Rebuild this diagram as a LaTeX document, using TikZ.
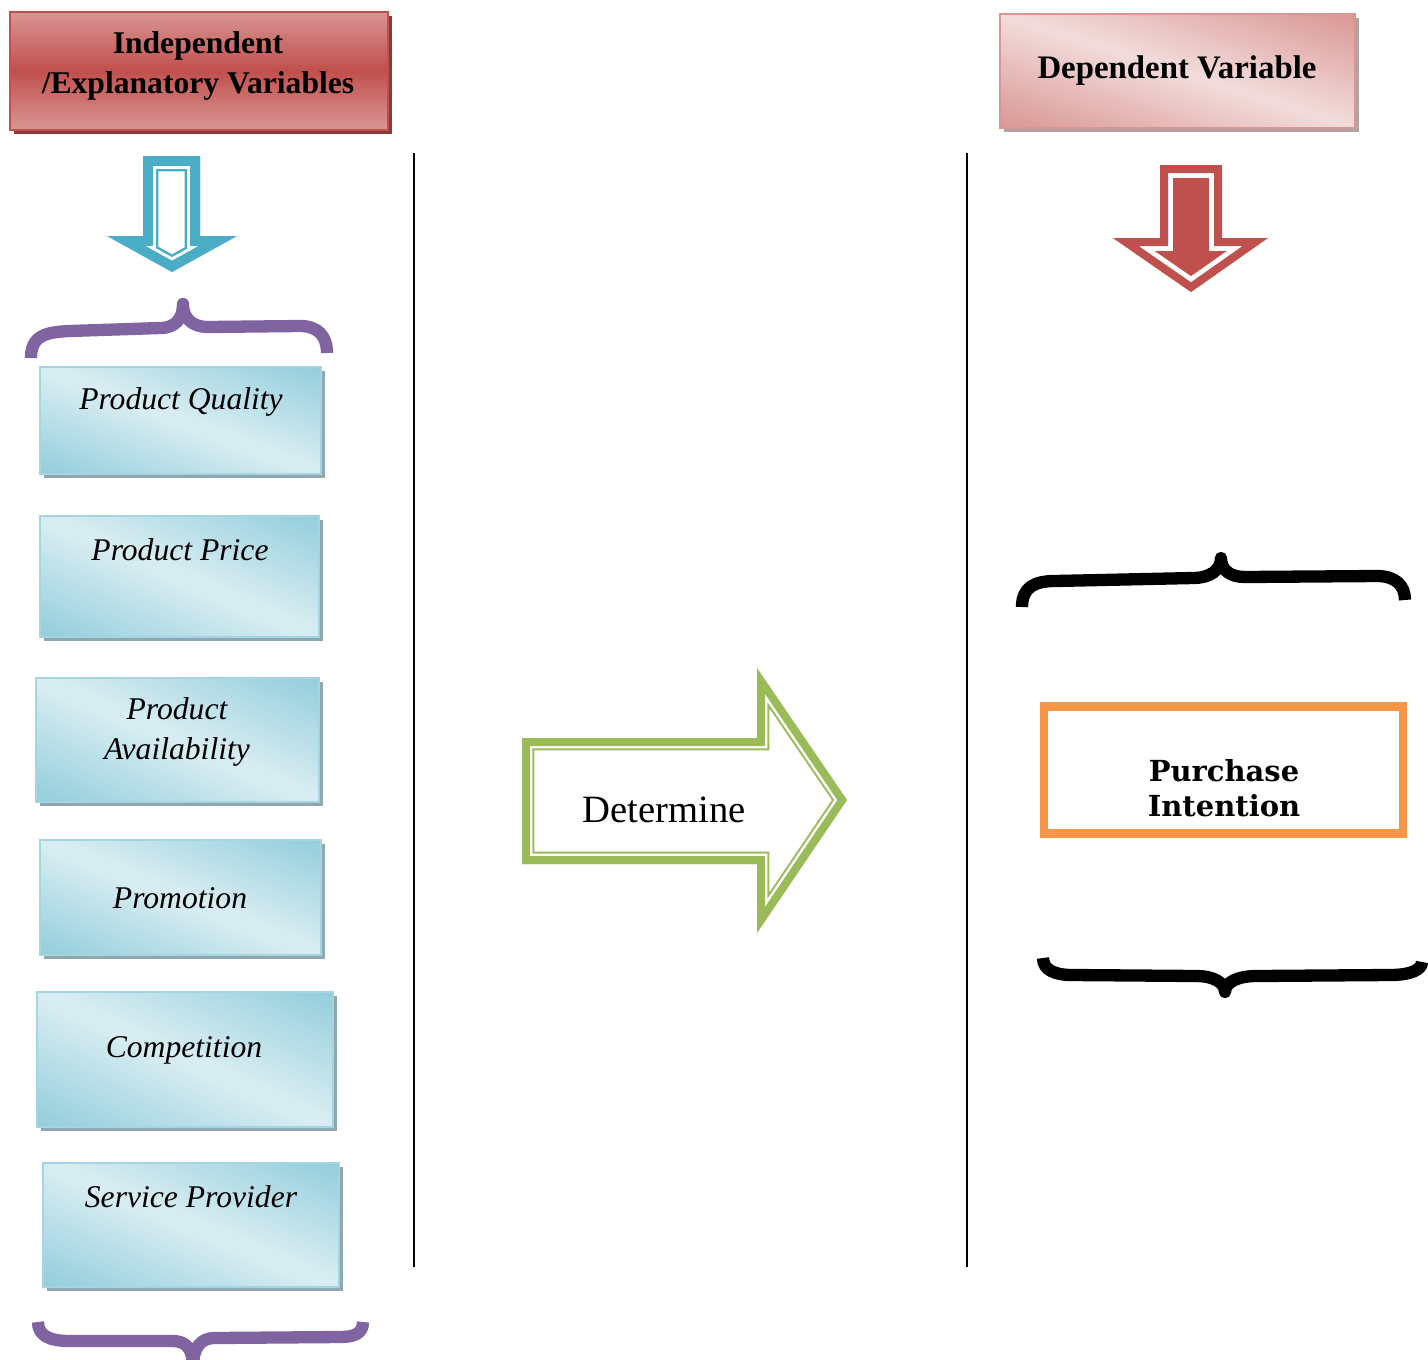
\documentclass[tikz,border=0pt]{standalone}
\usepackage{fontspec}
\setmainfont{Liberation Serif}
\newfontfamily\slabfont{DejaVu Serif}
\usetikzlibrary{calc,fit}
\definecolor{redM}{HTML}{C0504D}
\definecolor{redL}{HTML}{D99694}
\definecolor{redS}{HTML}{8A3A37}
\definecolor{pinkL}{HTML}{F2DCDB}
\definecolor{pinkS}{HTML}{B3A2A2}
\definecolor{blueD}{HTML}{92CDDC}
\definecolor{blueL}{HTML}{DAEEF3}
\definecolor{blueB}{HTML}{A5D5E2}
\definecolor{blueS}{HTML}{8FA8B0}
\definecolor{blueA}{HTML}{4BACC6}
\definecolor{purp}{HTML}{8064A2}
\definecolor{grn}{HTML}{9BBB59}
\definecolor{orng}{HTML}{F79646}
\tikzset{
  itext/.style={font=\itshape\fontsize{18}{22.7}\selectfont, align=center, inner sep=0pt},
  hdrtext/.style={font=\bfseries\fontsize{18}{22.7}\selectfont, align=center, inner sep=0pt},
  bracepath/.style={line width=7pt, line cap=butt, line join=round},
  sepline/.style={line width=1.1pt, black}
}
% diagonal gradient box: name, x1, y1, x2, y2, dark, light, border, shadow
\newcommand\diagbox[9]{%
  \fill[#9] ({#2+4},{#3+4}) rectangle ({#4+4},{#5+4});
  \begin{scope}
    \clip (#2,#3) rectangle (#4,#5);
    \foreach \k in {0,...,39}{%
      \pgfmathsetmacro\ca{-1+\k/20}%
      \pgfmathsetmacro\cb{-1+(\k+1)/20+0.01}%
      \pgfmathtruncatemacro\pc{abs(-1+(\k+0.5)/20)*100}%
      \fill[#6!\pc!#7] ({#2+\ca*(#4-#2)},#3) -- ({#2+\cb*(#4-#2)},#3) -- ({#4+\cb*(#4-#2)},#5) -- ({#4+\ca*(#4-#2)},#5) -- cycle;
    }
  \end{scope}
  \node[fit={(#2,#3) (#4,#5)}, inner sep=0pt, outer sep=0pt, draw=#8, line width=1pt] (#1) {};
}
% vertical gradient box (light top and bottom, dark middle)
\newcommand\vertbox[9]{%
  \fill[#9] ({#2+4},{#3+4}) rectangle ({#4+4},{#5+4});
  \begin{scope}
    \clip (#2,#3) rectangle (#4,#5);
    \foreach \k in {0,...,39}{%
      \pgfmathsetmacro\ya{#3+\k*(#5-#3)/40}%
      \pgfmathsetmacro\yb{#3+(\k+1.3)*(#5-#3)/40}%
      \pgfmathtruncatemacro\pc{abs(1-2*(\k+0.5)/40)*100}%
      \fill[#7!\pc!#6] (#2,\ya) rectangle (#4,\yb);
    }
  \end{scope}
  \node[fit={(#2,#3) (#4,#5)}, inner sep=0pt, outer sep=0pt, draw=#8, line width=1.2pt] (#1) {};
}
\begin{document}
\begin{tikzpicture}[x=0.02cm,y=-0.02cm]
\useasboundingbox (0,0) rectangle (1428,1360);
\clip (0,0) rectangle (1428,1360);
\fill[white] (0,0) rectangle (1428,1360);

% headers
\vertbox{h1}{10}{12}{388}{130}{redM}{redL}{redM}{redS}
\node[hdrtext] (h1t) at (198,66) {Independent\\/Explanatory Variables};
\diagbox{h2}{1000}{14}{1355}{128}{redL}{pinkL}{redL}{pinkS}
\node[hdrtext, font=\bfseries\fontsize{18.7}{23}\selectfont] (h2t) at (1177,71) {Dependent Variable};

% blue down arrow
\coordinate (ba1) at (143,156); \coordinate (ba2) at (200,156); \coordinate (ba3) at (200,236);
\coordinate (ba4) at (237,236); \coordinate (ba5) at (172,272); \coordinate (ba6) at (107,236);
\coordinate (ba7) at (143,236);
\begin{scope}
\clip (ba1)--(ba2)--(ba3)--(ba4)--(ba5)--(ba6)--(ba7)--cycle;
\fill[white] (ba1)--(ba2)--(ba3)--(ba4)--(ba5)--(ba6)--(ba7)--cycle;
\draw[blueA, line width=17.6pt, line join=miter] (ba1)--(ba2)--(ba3)--(ba4)--(ba5)--(ba6)--(ba7)--cycle;
\draw[white, line width=14.7pt, line join=miter] (ba1)--(ba2)--(ba3)--(ba4)--(ba5)--(ba6)--(ba7)--cycle;
\draw[blueA, line width=11.3pt, line join=miter] (ba1)--(ba2)--(ba3)--(ba4)--(ba5)--(ba6)--(ba7)--cycle;
\end{scope}

% red down arrow
\coordinate (ra1) at (1160,165); \coordinate (ra2) at (1222,165); \coordinate (ra3) at (1222,238);
\coordinate (ra4) at (1268,238); \coordinate (ra5) at (1191,292); \coordinate (ra6) at (1113,238);
\coordinate (ra7) at (1160,238);
\begin{scope}
\clip (ra1)--(ra2)--(ra3)--(ra4)--(ra5)--(ra6)--(ra7)--cycle;
\fill[redM] (ra1)--(ra2)--(ra3)--(ra4)--(ra5)--(ra6)--(ra7)--cycle;
\draw[white, line width=14.7pt, line join=miter] (ra1)--(ra2)--(ra3)--(ra4)--(ra5)--(ra6)--(ra7)--cycle;
\draw[redM, line width=9.1pt, line join=miter] (ra1)--(ra2)--(ra3)--(ra4)--(ra5)--(ra6)--(ra7)--cycle;
\end{scope}

% green right arrow
\coordinate (ga1) at (522,738); \coordinate (ga2) at (757,738); \coordinate (ga3) at (757,668);
\coordinate (ga4) at (847,800); \coordinate (ga5) at (757,933); \coordinate (ga6) at (757,864);
\coordinate (ga7) at (522,864);
\begin{scope}
\clip (ga1)--(ga2)--(ga3)--(ga4)--(ga5)--(ga6)--(ga7)--cycle;
\fill[white] (ga1)--(ga2)--(ga3)--(ga4)--(ga5)--(ga6)--(ga7)--cycle;
\draw[grn, line width=14.2pt, line join=miter] (ga1)--(ga2)--(ga3)--(ga4)--(ga5)--(ga6)--(ga7)--cycle;
\draw[white, line width=11.9pt, line join=miter] (ga1)--(ga2)--(ga3)--(ga4)--(ga5)--(ga6)--(ga7)--cycle;
\draw[grn, line width=9.1pt, line join=miter] (ga1)--(ga2)--(ga3)--(ga4)--(ga5)--(ga6)--(ga7)--cycle;
\end{scope}
\node[font=\fontsize{22}{26}\selectfont, inner sep=0pt] (det) at (664,810) {Determine};

% separator lines
\coordinate (v1t) at (414,153); \coordinate (v1b) at (414,1267);
\coordinate (v2t) at (967,153); \coordinate (v2b) at (967,1267);
\draw[sepline] (v1t) -- (v1b);
\draw[sepline] (v2t) -- (v2b);

% purple braces
\draw[purp, bracepath] (31,358) .. controls (31,336) and (45,332) .. (70,331) -- (160,328)
  .. controls (176,328) and (183,318) .. (183,304)
  .. controls (183,318) and (192,327) .. (208,327) -- (300,326)
  .. controls (318,326) and (327,336) .. (327,353);
\draw[purp, bracepath] (38,1322) .. controls (38,1336) and (50,1341) .. (70,1341) -- (172,1341)
  .. controls (186,1341) and (193,1348) .. (193,1368)
  .. controls (193,1348) and (200,1338) .. (215,1338) -- (340,1337)
  .. controls (355,1337) and (363,1333) .. (363,1322);

% black braces
\draw[black, bracepath] (1022,607) .. controls (1022,587) and (1035,581) .. (1055,581) -- (1193,578)
  .. controls (1210,578) and (1221,570) .. (1221,558)
  .. controls (1221,570) and (1230,577) .. (1245,577) -- (1377,576)
  .. controls (1395,576) and (1405,585) .. (1405,600);
\draw[black, bracepath] (1043,958) .. controls (1043,970) and (1055,975) .. (1072,975) -- (1197,976)
  .. controls (1212,976) and (1225,982) .. (1225,992)
  .. controls (1225,982) and (1238,976) .. (1257,976) -- (1390,975)
  .. controls (1410,975) and (1422,970) .. (1422,962);

% blue boxes
\diagbox{b1}{40}{367}{321}{474}{blueD}{blueL}{blueB}{blueS}
\node[itext] (t1) at (181,402) {Product Quality};
\diagbox{b2}{40}{516}{319}{637}{blueD}{blueL}{blueB}{blueS}
\node[itext] (t2) at (180,550) {Product Price};
\diagbox{b3}{36}{678}{319}{802}{blueD}{blueL}{blueB}{blueS}
\node[itext] (t3) at (177,732) {Product\\Availability};
\diagbox{b4}{40}{840}{321}{955}{blueD}{blueL}{blueB}{blueS}
\node[itext] (t4) at (180,898) {Promotion};
\diagbox{b5}{37}{992}{333}{1127}{blueD}{blueL}{blueB}{blueS}
\node[itext] (t5) at (184,1050) {Competition};
\diagbox{b6}{43}{1163}{339}{1287}{blueD}{blueL}{blueB}{blueS}
\node[itext] (t6) at (191,1197) {Service Provider};

% purchase intention box
\node[draw=orng, line width=4.2pt, fill=white, inner sep=0pt, minimum width=7.21cm, minimum height=2.57cm] (pi) at (1223.5,770) {};
\draw[orng, line width=0.9pt] ($(pi.north west)+(8,8)$) rectangle ($(pi.south east)+(-8,-8)$);
\node[font=\slabfont\bfseries\fontsize{16.5}{20}\selectfont, align=center, inner sep=0pt] (pit) at (1224,788) {Purchase\\Intention};
\end{tikzpicture}
\end{document}
